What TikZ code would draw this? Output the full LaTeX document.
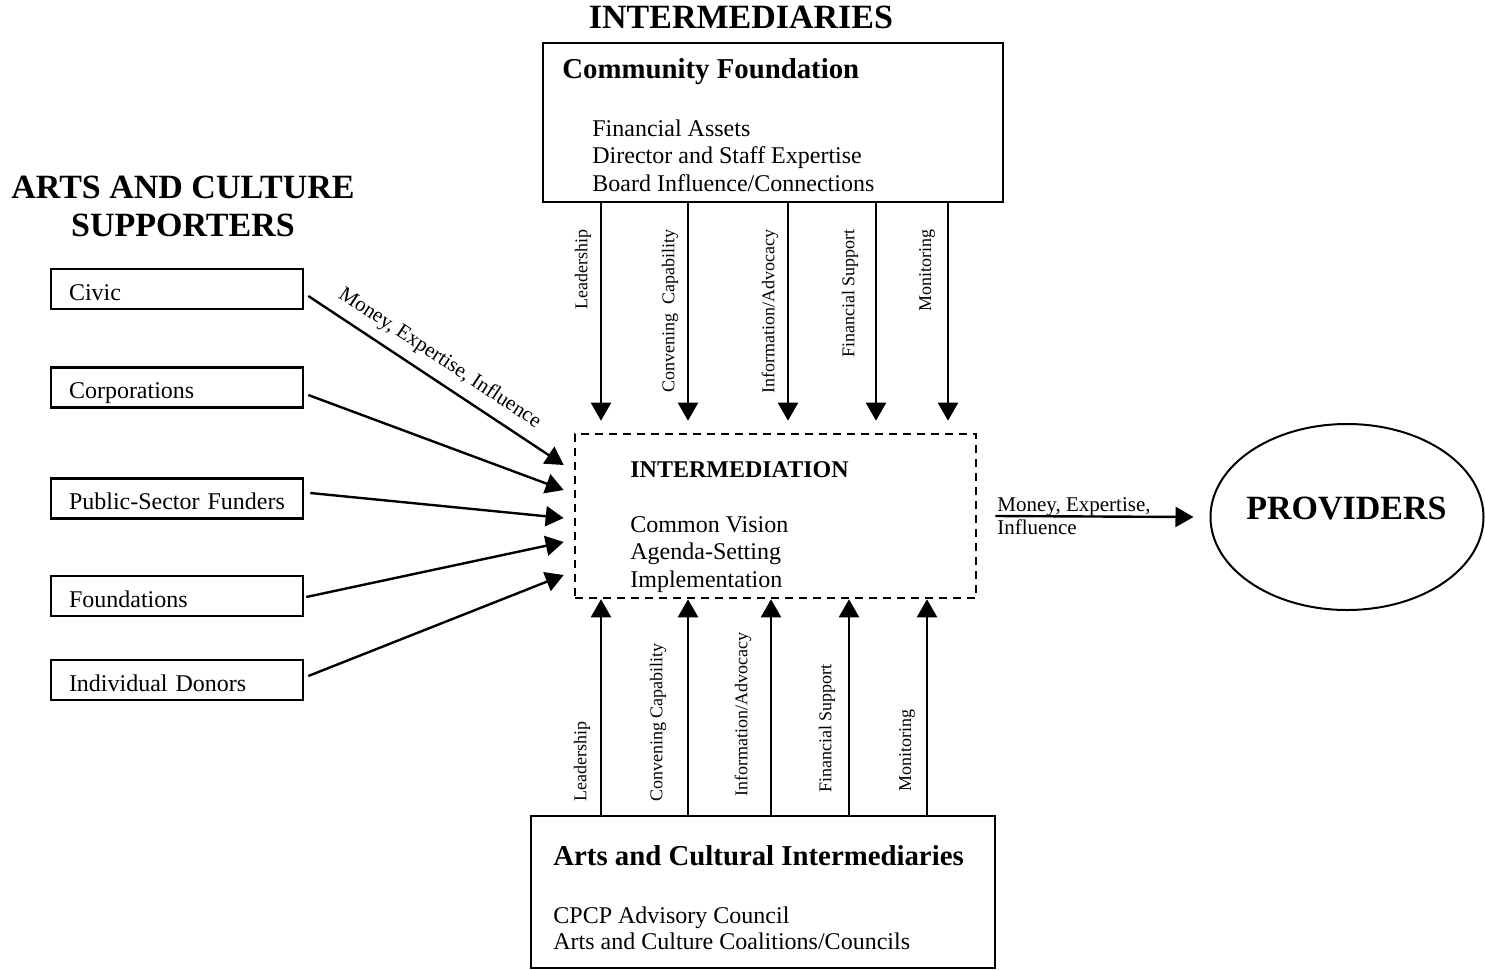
\documentclass[tikz,border=0pt]{standalone}
\usepackage{fontspec}
\setmainfont{Liberation Serif}
\usetikzlibrary{arrows.meta,shapes.geometric}

\begin{document}
\begin{tikzpicture}[x=0.5pt,y=-0.5pt,
  box/.style={draw, line width=1.3pt, inner sep=0pt},
  flow/.style={-{Triangle[width=10pt,length=9pt]}, line width=1.2pt},
  body/.style={font=\fontsize{12}{13.75}\selectfont, inner sep=0pt},
  head/.style={font=\fontsize{14.4}{17}\selectfont\bfseries, inner sep=0pt},
  title/.style={font=\fontsize{17}{19}\selectfont\bfseries, inner sep=0pt},
  vlabel/.style={font=\fontsize{9}{11}\selectfont, rotate=90, inner sep=0pt},
  supbox/.style={box, minimum width=126pt, minimum height=20pt, text width=108pt,
    inner xsep=9pt, text height=11pt, text depth=0pt, font=\fontsize{12}{14}\selectfont},
  flowlabel/.style={font=\fontsize{10.5}{11.5}\selectfont}]
\useasboundingbox (0,0) rectangle (1485,970);

% titles
\node[title, anchor=base] (intt) at (741,28) {INTERMEDIARIES};
\node[title, anchor=north, align=center] (supt) at (183,176) {ARTS AND CULTURE\\SUPPORTERS};

% community foundation
\node[box, minimum width=230pt, minimum height=79.5pt] (cf) at (773,122.5) {};
\node[head, anchor=base west] (cfh) at (562,78) {Community Foundation};
\node[body, anchor=north west, align=left] (cfl) at (592,119)
  {Financial Assets\\Director and Staff Expertise\\Board Influence/Connections};

% intermediation
\node[box, dash pattern=on 4pt off 3pt, minimum width=200.5pt, minimum height=82pt] (im) at (775.5,516) {};
\node[font=\fontsize{12}{14}\selectfont\bfseries, inner sep=0pt, anchor=base west] (imh) at (630,477) {INTERMEDIATION};
\node[body, anchor=north west, align=left] (iml) at (630,516)
  {Common Vision\\Agenda-Setting\\Implementation};

% arts and cultural intermediaries
\node[box, minimum width=232pt, minimum height=76pt] (acb) at (763,892) {};
\node[head, anchor=base west] (acbh) at (553,865) {Arts and Cultural Intermediaries};
\node[body, anchor=north west, align=left, font=\fontsize{12}{13}\selectfont] (acbl) at (553,906)
  {CPCP Advisory Council\\Arts and Culture Coalitions/Councils};

% providers
\node[draw, ellipse, line width=1pt, minimum width=136.5pt, minimum height=93pt, inner sep=0pt] (prov) at (1347,517) {};
\node[title, anchor=base] (provt) at (1346.5,519) {PROVIDERS};

% supporters
\foreach \n/\y/\t in {civic/289/Civic, corp/387.5/Corporations, pub/498.5/Public-Sector Funders,
    fnd/596/Foundations, ind/680/Individual Donors}
  \node[supbox] (\n) at (177,\y) {\t};

\draw[flow] ([shift={(4,7)}]civic.east) -- node[pos=0.47, sloped, above=1.5pt, flowlabel] (civl) {Money, Expertise, Influence}
  ([shift={(-10,-51)}]im.west);
\draw[flow] ([shift={(4,7.5)}]corp.east) -- ([shift={(-10,-26)}]im.west);
\draw[flow] ([shift={(6,-5.5)}]pub.east) -- ([shift={(-10,2)}]im.west);
\draw[flow] ([shift={(2,1)}]fnd.east) -- ([shift={(-10,26)}]im.west);
\draw[flow] ([shift={(4,-4)}]ind.east) -- ([shift={(-10,59)}]im.west);

% to providers
\draw[flow] ([xshift=9]im.east) -- ([xshift=-8]prov.west);
\node[flowlabel, inner sep=0pt, anchor=north west, align=left] (provl) at (997,497)
  {Money, Expertise,\\Influence};

% from community foundation
\foreach \x/\lx/\t [count=\i] in {601/583/Leadership, 688/670/Convening\ \ Capability,
    788/770/{Information/Advocacy}, 876/850/Financial Support, 948/927/Monitoring} {
  \draw[flow, shorten >=6pt] (cf.south -| \x,0) -- (im.north -| \x,0);
  \node[vlabel, anchor=east] (tl\i) at (\lx,229) {\t};
}

% from arts and cultural intermediaries
\foreach \x/\lx/\ly/\t [count=\i] in {601/582/802/Leadership, 688/658/802/Convening Capability,
    771/743/797/{Information/Advocacy}, 849/827/793/Financial Support, 927/907/792/Monitoring} {
  \draw[flow] (acb.north -| \x,0) -- (im.south -| \x,0);
  \node[vlabel, anchor=west] (bl\i) at (\lx,\ly) {\t};
}
\end{tikzpicture}
\end{document}
